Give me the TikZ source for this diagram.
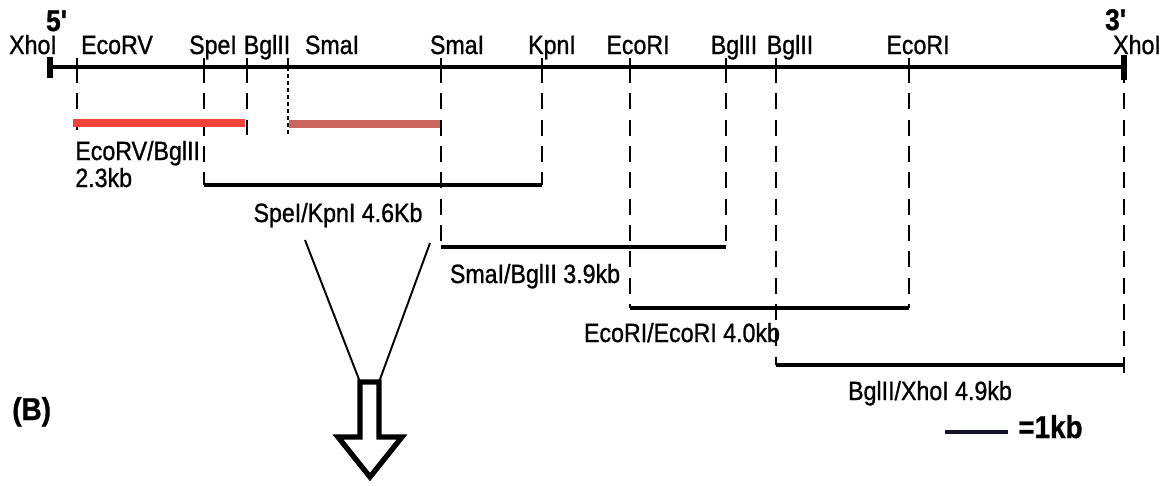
\documentclass[tikz,border=0pt]{standalone}
\usepackage{fontspec}
\setmainfont{Liberation Sans}[FakeStretch=0.88,FakeBold=1]
\usepackage{tikz}
\usetikzlibrary{calc}
\definecolor{cutred}{HTML}{F2433A}
\definecolor{cutrose}{HTML}{C8665F}
\definecolor{barnavy}{HTML}{10122A}

\begin{document}
\begin{tikzpicture}[x=0.02cm,y=-0.02cm,
  every node/.style={font=\fontsize{15}{17}\selectfont,inner sep=0pt},
  enz/.style={anchor=base},
  frag/.style={line width=2.3pt},
  cut/.style={line width=1.6pt,dash pattern=on 9pt off 6pt},
  dotcut/.style={line width=1.2pt,dash pattern=on 2pt off 2pt},
  tick/.style={line width=1.1pt},
  endtick/.style={line width=3pt},
  probe/.style={line width=4.5pt},
  prime/.style={anchor=base,font=\fontsize{17}{19}\selectfont\bfseries},
  big/.style={font=\fontsize{18}{20}\selectfont\bfseries}
]
\useasboundingbox (0,0) rectangle (1169,485);

% sites along the map
\foreach \n/\x/\e in {ecorv/77/130,spe/204/185,bgla/247/135,smaa/288/137,smab/441/247,
    kpn/542/185,ecoa/630/308,bglb/726/247,bglc/776/365,ecob/909/308,xhob/1124/380}{
  \coordinate (\n) at (\x,67);
  \coordinate (\n-top) at (\x,58);
  \coordinate (\n-low) at (\x,\e);
}
\coordinate (xhoa) at (50,67);

\draw[frag] (xhoa) -- (xhob);
\draw[endtick] ($(xhoa)+(0,-10)$) -- ($(xhoa)+(0,11)$);
\draw[endtick] ($(xhob)+(0,-12)$) -- ($(xhob)+(0,13)$);
\foreach \n in {ecorv,spe,bgla,smaa,smab,kpn,ecoa,bglb,bglc,ecob}
  \draw[tick] (\n-top) -- (\n);

% enzyme names
\node[enz] (l-xhoa) at (33,54) {XhoI};
\node[prime] (l-five) at (57,31) {5\textquotesingle};
\node[enz] (l-ecorv) at (117,54) {EcoRV};
\node[enz] (l-spe) at (213,54) {SpeI};
\node[enz] (l-bgla) at (267,54) {BglII};
\node[enz] (l-smaa) at (332,54) {SmaI};
\node[enz] (l-smab) at (457,54) {SmaI};
\node[enz] (l-kpn) at (552,54) {KpnI};
\node[enz] (l-ecoa) at (638,54) {EcoRI};
\node[enz] (l-bglb) at (734,54) {BglII};
\node[enz] (l-bglc) at (790,54) {BglII};
\node[enz] (l-ecob) at (918,54) {EcoRI};
\node[prime] (l-three) at (1116,30) {3\textquotesingle};
\node[enz] (l-xhob) at (1137,54) {XhoI};

% cut positions
\foreach \n in {ecorv,spe,bgla,smab,kpn,ecoa,bglb,bglc,ecob,xhob}
  \draw[cut] (\n) -- (\n-low);
\draw[dotcut] (smaa) -- (smaa-low);

% probe pieces
\coordinate (rv-a) at (73,123);
\coordinate (rv-b) at (245,123);
\coordinate (sm-a) at (289,124);
\coordinate (sm-b) at (440,124);
\draw[probe,cutred] (rv-a) -- (rv-b);
\draw[probe,cutrose] (sm-a) -- (sm-b);

% fragments
\draw[frag] (spe-low) -- (kpn-low);
\draw[frag] (smab-low) -- (bglb-low);
\draw[frag] (ecoa-low) -- (ecob-low);
\draw[frag] (bglc-low) -- (xhob |- bglc-low);

\node[anchor=base west] (f-rv) at (75,160) {EcoRV/BglII};
\node[anchor=base west] (f-rvkb) at (75,187) {2.3kb};
\node[enz] (f-spe) at (338,222) {SpeI/KpnI 4.6Kb};
\node[enz] (f-sma) at (535,283) {SmaI/BglII 3.9kb};
\node[enz] (f-eco) at (682,342) {EcoRI/EcoRI 4.0kb};
\node[enz] (f-bgl) at (930,400) {BglII/XhoI 4.9kb};

% zoom-in arrow
\coordinate (fun-l) at (305,240);
\coordinate (fun-r) at (430,243);
\coordinate (arr-l) at (360,382);
\coordinate (arr-r) at (379,382);
\draw[line width=1.1pt] (fun-l) -- (arr-l);
\draw[line width=1.1pt] (fun-r) -- (arr-r);
\draw[line width=3pt,fill=white] (arr-l) -- (arr-r) -- (379,437) -- (402,437)
  -- (370,477) -- (338,437) -- (360,437) -- cycle;

% label and scale
\node[anchor=base west,big] (tag) at (12,420) {(B)};
\coordinate (sc-a) at (945,432);
\coordinate (sc-b) at (1008,432);
\draw[line width=1.8pt,barnavy] (sc-a) -- (sc-b);
\node[anchor=base west,big] (sc-lbl) at (1018,438) {=1kb};
\end{tikzpicture}
\end{document}
